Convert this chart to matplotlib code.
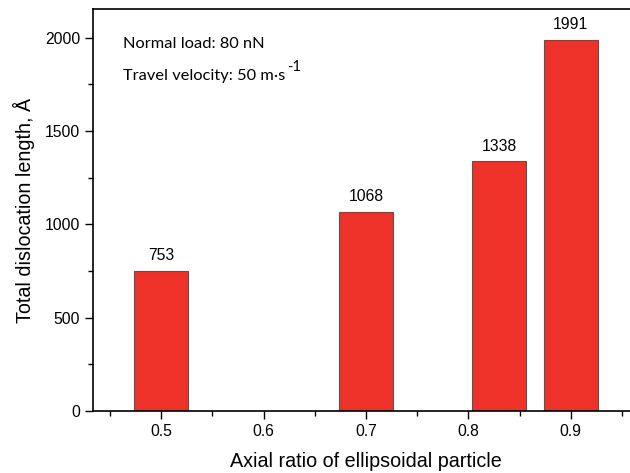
import matplotlib
matplotlib.use("Agg")
import matplotlib.pyplot as plt
from matplotlib.ticker import MultipleLocator

# values
ratios = [0.5, 0.7, 0.83, 0.9]
lengths = [753, 1068, 1338, 1991]
xticks = [0.5, 0.6, 0.7, 0.8, 0.9]
xtick_labels = ["0.5", "0.6", "0.7", "0.8", "0.9"]

plt.rcParams['font.family'] = ['Liberation Sans', 'DejaVu Sans']

fig = plt.figure(figsize=(6.3, 4.73), dpi=100)
ax = fig.add_axes([0.148, 0.131, 0.866, 0.849])

bars = ax.bar(ratios, lengths, width=0.053, color='#ee3129',
              edgecolor='#555555', linewidth=0.8)
for b, v in zip(bars, lengths):
    ax.text(b.get_x() + b.get_width() / 2, v + 40, str(v),
            ha='center', va='bottom', fontsize=11.3)

ax.set_xlim(0.4336, 0.9664)
ax.set_ylim(0, 2152)
ax.set_xticks(xticks)
ax.set_xticklabels(xtick_labels)
ax.xaxis.set_minor_locator(MultipleLocator(0.05))
ax.yaxis.set_major_locator(MultipleLocator(500))
ax.yaxis.set_minor_locator(MultipleLocator(250))
ax.tick_params(which='major', direction='out', length=6, width=1, labelsize=11.3, pad=3.5)
ax.tick_params(which='minor', direction='out', length=3.5, width=1)
for s in ax.spines.values():
    s.set_linewidth(1.2)

ax.set_xlabel("Axial ratio of ellipsoidal particle", fontsize=14.2, labelpad=9)
ax.set_ylabel("Total dislocation length, Å", fontsize=14.2, labelpad=7)

ax.text(0.055, 0.915, "Normal load: 80 nN", transform=ax.transAxes,
        fontsize=11.8, family=['Lato', 'DejaVu Sans'], va='center')
t = ax.text(0.055, 0.835, "Travel velocity: 50 m·s", transform=ax.transAxes,
            fontsize=11.8, family=['Lato', 'DejaVu Sans'], va='center')
ax.annotate("-1", xy=(1, 1), xycoords=t, xytext=(1, 1), textcoords='offset points',
            fontsize=10.5, family=['Lato', 'DejaVu Sans'], va='center', ha='left')

fig.savefig("out.png", dpi=100)
